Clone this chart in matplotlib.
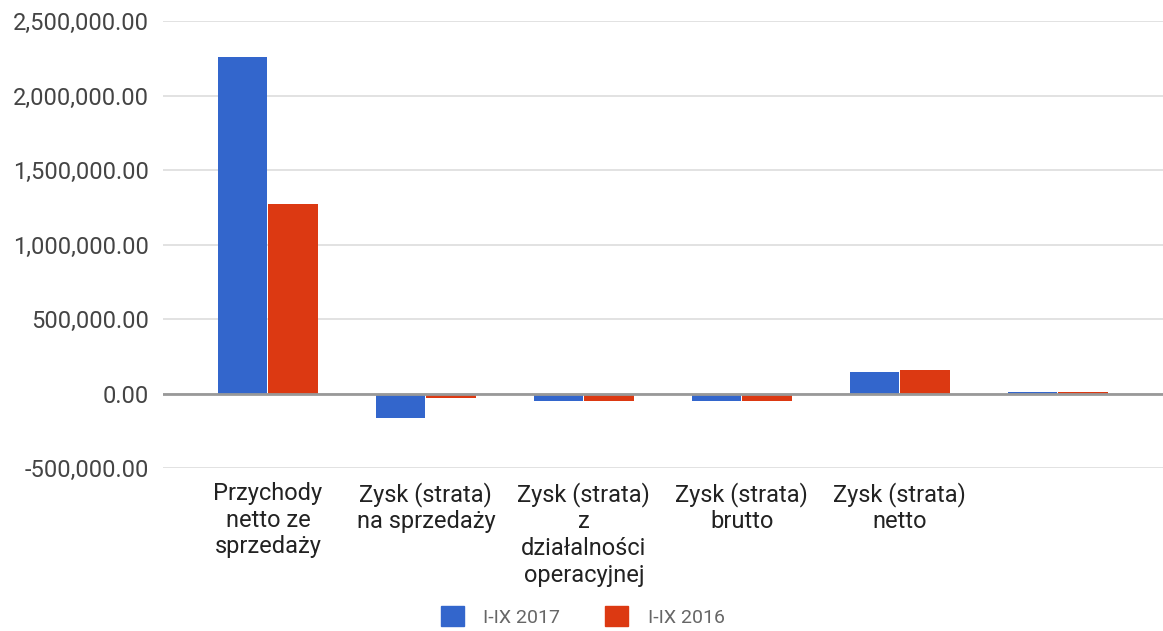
import numpy as np
import matplotlib.pyplot as plt
from matplotlib.ticker import FuncFormatter
from matplotlib.patches import Patch

plt.rcParams['font.family'] = ['Roboto', 'DejaVu Sans']

categories = ['Przychody\nnetto ze\nsprzedaży', 'Zysk (strata)\nna sprzedaży',
              'Zysk (strata)\nz\ndziałalności\noperacyjnej', 'Zysk (strata)\nbrutto',
              'Zysk (strata)\nnetto', '']
series_names = ['I-IX 2017', 'I-IX 2016']
values_2017 = [2260000, -161000, -50000, -50000, 145000, 10000]
values_2016 = [1273000, -33000, -52000, -52000, 156000, 10000]
colors = ['#3366CC', '#DC3912']


def plot_grouped_bars():
    """Grouped bar chart in the Google Charts look"""

    fig = plt.figure(figsize=(11.63, 6.31), dpi=100)
    ax = fig.add_axes([0.140, 0.2583, 0.86, 0.7084])
    x = np.arange(len(categories))
    w = 0.315
    ax.bar(x - w / 2 - 0.003, values_2017, w, color=colors[0], zorder=3)
    ax.bar(x + w / 2 + 0.003, values_2016, w, color=colors[1], zorder=3)

    ax.set_xlim(-0.665, 5.665)
    ax.set_ylim(-500000, 2500000)
    ax.set_yticks(np.arange(-500000, 2500001, 500000))
    ax.yaxis.set_major_formatter(FuncFormatter(lambda v, p: f'{v:,.2f}'))
    ax.grid(axis='y', color='#dddddd', linewidth=1.2, zorder=0)
    ax.axhline(0, color='#999999', linewidth=2, zorder=4)
    for s in ax.spines.values():
        s.set_visible(False)
    ax.tick_params(axis='y', length=0, pad=10, labelsize=17, labelcolor='#444444')
    ax.tick_params(axis='x', length=0, pad=10, labelsize=17, labelcolor='#222222')
    ax.set_xticks(x)
    ax.set_xticklabels(categories, linespacing=1.2, va='top')

    handles = [Patch(color=c) for c in colors]
    fig.legend(handles, series_names, loc='center', bbox_to_anchor=(0.501, 0.023),
               ncol=2, frameon=False, fontsize=14, labelcolor='#666666',
               handlelength=1.2, handleheight=1.2, handletextpad=1.0,
               columnspacing=2.3)
    fig.savefig('out.png', dpi=100)


plot_grouped_bars()
